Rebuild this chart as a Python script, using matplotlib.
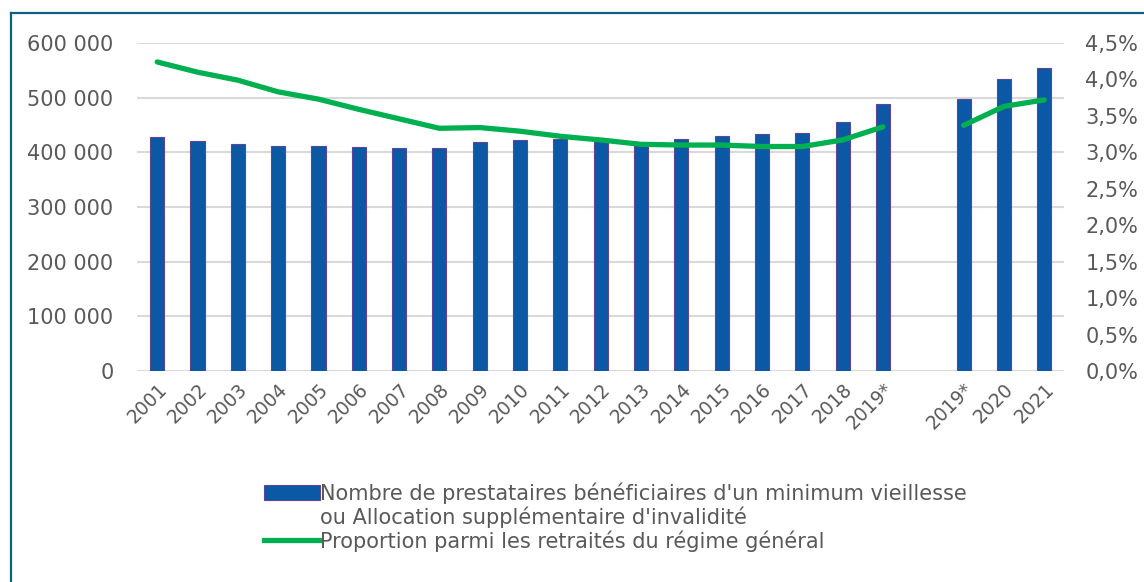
import numpy as np
import matplotlib.pyplot as plt
from matplotlib.patches import Patch
from matplotlib.lines import Line2D
from matplotlib.ticker import FuncFormatter

plt.rcParams['font.family'] = ['DejaVu Sans']

# données
annees = ['2001', '2002', '2003', '2004', '2005', '2006', '2007', '2008', '2009', '2010',
          '2011', '2012', '2013', '2014', '2015', '2016', '2017', '2018', '2019*',
          '', '2019*', '2020', '2021']
prestataires = [428600, 420700, 415800, 412000, 412000, 410000, 408500, 408000, 419500, 423000,
                424400, 420700, 418000, 424400, 430400, 433000, 435900, 456000, 489000,
                None, 497500, 533500, 554200]
proportion = [4.24, 4.10, 3.99, 3.83, 3.73, 3.59, 3.46, 3.33, 3.34, 3.29,
              3.22, 3.17, 3.11, 3.10, 3.10, 3.08, 3.08, 3.17, 3.35,
              None, 3.37, 3.63, 3.72]

label_barres = "Nombre de prestataires bénéficiaires d'un minimum vieillesse"
label_barres_2 = "ou Allocation supplémentaire d'invalidité"
label_ligne = "Proportion parmi les retraités du régime général"

gris = '#595959'
x = np.arange(len(annees))
vals = np.array([np.nan if v is None else v for v in prestataires], dtype=float)
pct = np.array([np.nan if v is None else v for v in proportion], dtype=float)

fig = plt.figure(figsize=(11.44, 5.82), dpi=100)
ax = fig.add_axes([0.1198, 0.3625, 0.8106, 0.5636])
ax2 = ax.twinx()

ax.bar(x, vals, width=0.35, color='#0B59A5', edgecolor='#5E4596', linewidth=0.8, zorder=2)
ax2.plot(x, pct, color='#00B050', linewidth=3.8, solid_capstyle='round', zorder=3)

ax.set_xlim(-0.5, len(annees) - 0.5)
ax.set_ylim(0, 600000)
ax.set_yticks(np.arange(0, 600001, 100000))
ax.yaxis.set_major_formatter(FuncFormatter(lambda v, p: f'{int(v):,}'.replace(',', ' ')))
ax2.set_ylim(0, 4.5)
ax2.set_yticks(np.arange(0, 4.51, 0.5))
ax2.yaxis.set_major_formatter(FuncFormatter(lambda v, p: f'{v:.1f}%'.replace('.', ',')))

ax.grid(axis='y', color='#D9D9D9', linewidth=1.5, zorder=0)
ax.set_axisbelow(True)
for a in (ax, ax2):
    for s in a.spines.values():
        s.set_visible(False)
ax.tick_params(axis='y', length=0, pad=17, labelsize=15, labelcolor=gris)
ax2.tick_params(axis='y', length=0, pad=15, labelsize=15, labelcolor=gris)
ax.set_xticks(x)
ax.set_xticklabels(annees, rotation=45, ha='right', rotation_mode='anchor')
ax.tick_params(axis='x', length=0, pad=6, labelsize=13.5, labelcolor=gris)

handles = [Patch(facecolor='#0B59A5', edgecolor='#5E4596', linewidth=0.8),
           Line2D([], [], color='none'),
           Line2D([], [], color='#00B050', linewidth=3.8)]
leg = fig.legend(handles, [label_barres, label_barres_2, label_ligne],
                 loc='center', bbox_to_anchor=(0.538, 0.112), frameon=False,
                 fontsize=15, labelcolor=gris, handlelength=2.7, handletextpad=0.0,
                 labelspacing=0.12, handleheight=0.7)

# cadre (bords gauche et haut seulement)
fig.add_artist(Line2D([11 / 1144, 11 / 1144], [0, 1 - 13 / 582], transform=fig.transFigure,
                      color='#0E6080', linewidth=1.6))
fig.add_artist(Line2D([11 / 1144, 1.01], [1 - 13 / 582, 1 - 13 / 582], transform=fig.transFigure,
                      color='#0E6080', linewidth=1.6))

fig.savefig('out.png', dpi=100)
